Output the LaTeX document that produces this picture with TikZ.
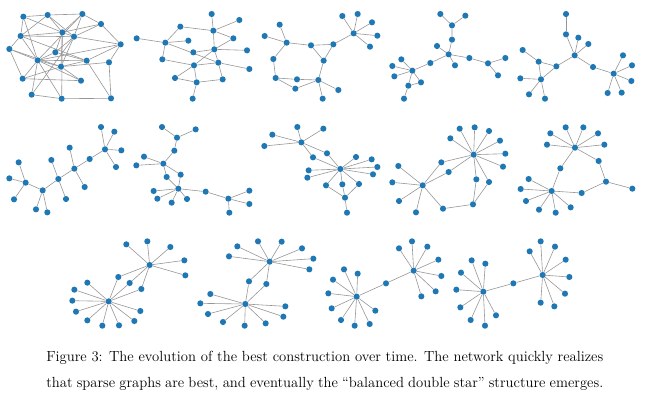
\documentclass[tikz,border=0pt]{standalone}
\usetikzlibrary{backgrounds}
\definecolor{nodeblue}{RGB}{31,119,180}
\definecolor{edgegray}{RGB}{150,150,150}
\tikzset{
  vtx/.style={circle, fill=nodeblue, inner sep=0pt, minimum size=4.6pt},
  lnk/.style={draw=edgegray, line width=0.45pt},
  caption/.style={anchor=base west, inner sep=0pt, font=\fontsize{11}{13}\selectfont}
}
\begin{document}
\begin{tikzpicture}[x=0.75pt, y=-0.75pt]
\useasboundingbox (0,0) rectangle (646,401);

% panel 1: dense random start
\begin{scope}[shift={(0,0)}, scale=1/3]
\foreach \n/\x/\y in {a/70/50, b/143/45, c/247/42, d/303/72, e/187/97, f/222/110, g/62/108, h/28/147, i/166/157, j/362/133, k/113/181, l/260/182, m/327/187, n/183/200, o/68/236, p/243/242, q/95/284, r/185/296, s/333/295}
  \node[vtx] (p1\n) at (\x,\y) {};
\begin{pgfonlayer}{background}
\foreach \u/\v in {a/b, a/g, a/k, a/e, b/c, b/g, b/e, b/f, c/d, c/e, c/f, c/k, d/f, d/j, d/e, e/f, e/g, e/i, e/n, e/r, f/g, f/i, f/j, f/n, f/q, g/h, g/k, g/l, h/k, h/o, i/k, i/l, j/l, j/m, j/k, k/l, k/n, k/o, k/p, k/r, l/n, l/s, m/n, m/s, n/o, n/p, o/p, q/r, q/k, r/s, h/n}
  \draw[lnk] (p1\u) -- (p1\v);
\end{pgfonlayer}
\end{scope}

% panel 2
\begin{scope}[shift={(125,0)}, scale=1/3]
\foreach \n/\x/\y in {a/260/42, b/343/60, c/166/80, d/265/92, e/35/115, f/325/115, g/121/128, h/190/122, i/205/157, j/268/148, k/366/151, l/112/178, m/280/188, n/207/196, o/373/207, p/150/234, q/215/247, r/293/238, s/203/296}
  \node[vtx] (p2\n) at (\x,\y) {};
\begin{pgfonlayer}{background}
\foreach \u/\v in {a/d, b/d, c/d, c/g, d/f, d/j, f/j, e/g, g/h, g/m, g/l, i/j, j/k, j/m, j/n, n/p, l/n, m/n, m/o, m/r, n/q, p/q, q/r, q/s}
  \draw[lnk] (p2\u) -- (p2\v);
\end{pgfonlayer}
\end{scope}

% panel 3
\begin{scope}[shift={(255,0)}, scale=1/3]
\foreach \n/\x/\y in {a/262/48, b/308/42, c/351/67, d/296/100, e/367/107, f/345/140, g/74/74, h/29/108, i/95/128, j/168/136, k/235/133, l/206/182, m/55/177, n/62/234, o/126/238, p/190/240, q/121/266, r/250/270, s/203/296}
  \node[vtx] (p3\n) at (\x,\y) {};
\begin{pgfonlayer}{background}
\foreach \u/\v in {a/d, b/d, c/d, e/d, f/d, k/d, g/i, h/i, i/j, j/k, j/l, k/l, i/m, m/n, n/o, o/p, n/q, q/p, l/p, p/r, p/s}
  \draw[lnk] (p3\u) -- (p3\v);
\end{pgfonlayer}
\end{scope}

% panel 4
\begin{scope}[shift={(385,0)}, scale=1/3]
\foreach \n/\x/\y in {a/166/42, b/241/47, c/201/76, d/201/119, e/156/138, f/191/163, g/210/196, h/253/174, i/309/190, j/361/174, k/339/226, l/136/189, m/49/178, n/22/198, o/82/212, p/28/229, q/108/247, r/70/257, s/57/296}
  \node[vtx] (p4\n) at (\x,\y) {};
\begin{pgfonlayer}{background}
\foreach \u/\v in {a/c, b/c, c/d, d/f, e/f, f/g, f/h, h/i, i/j, i/k, f/l, l/o, m/o, n/o, p/o, o/q, o/r, q/r, r/s}
  \draw[lnk] (p4\u) -- (p4\v);
\end{pgfonlayer}
\end{scope}

% panel 5
\begin{scope}[shift={(510,0)}, scale=1/3]
\foreach \n/\x/\y in {a/168/42, b/168/103, c/205/113, d/235/132, e/194/166, f/38/150, g/86/185, h/139/199, i/249/201, j/31/235, k/93/238, l/57/283, m/105/296, n/311/221, o/339/166, p/366/196, q/364/243, r/293/279, s/335/278}
  \node[vtx] (p5\n) at (\x,\y) {};
\begin{pgfonlayer}{background}
\foreach \u/\v in {a/b, b/e, c/e, d/e, e/h, e/i, i/n, g/h, f/g, g/k, h/k, j/k, k/l, k/m, n/o, n/p, n/q, n/r, n/s}
  \draw[lnk] (p5\u) -- (p5\v);
\end{pgfonlayer}
\end{scope}

% panel 6
\begin{scope}[shift={(0,115)}, scale=1/3]
\foreach \n/\x/\y in {a/303/36, b/343/50, c/315/103, d/364/106, e/348/156, f/269/132, g/209/98, h/223/161, i/254/216, j/154/135, k/175/192, l/198/252, m/56/142, n/28/190, o/77/203, p/42/253, q/128/226, r/108/283, s/142/292}
  \node[vtx] (p6\n) at (\x,\y) {};
\begin{pgfonlayer}{background}
\foreach \u/\v in {a/c, b/c, c/d, c/e, c/f, f/h, g/h, h/i, h/k, j/k, k/l, k/q, q/o, m/o, n/o, p/o, q/r, q/s}
  \draw[lnk] (p6\u) -- (p6\v);
\end{pgfonlayer}
\end{scope}

% panel 7
\begin{scope}[shift={(130,115)}, scale=1/3]
\foreach \n/\x/\y in {a/96/36, b/197/43, c/141/68, d/133/107, e/42/125, f/19/151, g/100/146, h/110/186, i/152/179, j/145/221, k/71/228, l/82/251, m/125/263, n/171/252, o/227/230, p/295/251, q/358/227, r/358/267, s/298/293}
  \node[vtx] (p7\n) at (\x,\y) {};
\begin{pgfonlayer}{background}
\foreach \u/\v in {a/c, b/c, c/d, d/g, e/g, f/g, g/h, g/i, h/j, i/j, j/k, j/l, j/m, j/n, j/o, o/p, p/q, p/r, p/s}
  \draw[lnk] (p7\u) -- (p7\v);
\end{pgfonlayer}
\end{scope}

% panel 8
\begin{scope}[shift={(255,115)}, scale=1/3]
\foreach \n/\x/\y in {a/127/36, b/205/41, c/52/59, d/28/93, e/139/82, f/216/115, g/174/127, h/256/162, i/303/126, j/350/133, k/367/156, l/354/178, m/161/166, n/157/188, o/213/211, p/262/208, q/312/207, r/270/248, s/276/293}
  \node[vtx] (p8\n) at (\x,\y) {};
\begin{pgfonlayer}{background}
\foreach \u/\v in {a/e, b/e, c/e, d/e, e/f, e/g, f/h, g/h, h/i, h/j, h/k, h/l, h/m, h/n, h/o, h/p, h/q, o/r, p/r, q/r, r/s}
  \draw[lnk] (p8\u) -- (p8\v);
\end{pgfonlayer}
\end{scope}

% panel 9
\begin{scope}[shift={(385,115)}, scale=1/3]
\foreach \n/\x/\y in {a/224/41, b/269/37, c/312/48, d/196/70, e/345/77, f/361/116, g/354/155, h/266/119, i/169/142, j/191/171, k/40/153, l/22/202, m/113/211, n/42/258, o/93/292, p/174/281, q/264/268, r/274/193, s/312/201}
  \node[vtx] (p9\n) at (\x,\y) {};
\begin{pgfonlayer}{background}
\foreach \u/\v in {h/a, h/b, h/c, h/d, h/e, h/f, h/g, h/i, h/j, i/m, j/m, m/k, m/l, m/n, m/o, m/p, p/q, q/r, r/h, q/s, s/h}
  \draw[lnk] (p9\u) -- (p9\v);
\end{pgfonlayer}
\end{scope}

% panel 10
\begin{scope}[shift={(510,115)}, scale=1/3]
\foreach \n/\x/\y in {a/167/37, b/220/37, c/121/55, d/264/55, e/111/89, f/283/89, g/195/98, h/266/138, i/151/160, j/288/200, k/367/221, l/215/234, m/56/192, n/32/222, o/125/228, p/48/258, q/87/284, r/137/293, s/182/277}
  \node[vtx] (q0\n) at (\x,\y) {};
\begin{pgfonlayer}{background}
\foreach \u/\v in {g/a, g/b, g/c, g/d, g/e, g/f, g/h, g/i, h/j, j/k, j/l, l/o, i/o, o/m, o/n, o/p, o/q, o/r, o/s}
  \draw[lnk] (q0\u) -- (q0\v);
\end{pgfonlayer}
\end{scope}

% panel 11 and 12
\begin{scope}[shift={(60,230)}, scale=1/3]
\foreach \n/\x/\y in {h/269/105, a/199/43, b/262/34, c/331/51, d/373/91, e/376/136, f/175/141, g/209/159, i/244/177, k/146/214, l/82/158, m/43/179, n/37/212, o/48/245, p/82/271, q/127/287, r/177/286, s/223/273, t/241/243}
  \node[vtx] (q1\n) at (\x,\y) {};
\foreach \n/\x/\y in {h/629/95, a/532/49, b/594/34, c/665/35, d/726/55, e/760/86, f/748/118, g/507/79, i/567/154, j/619/162, k/556/222, l/451/192, m/421/220, n/444/252, o/489/276, p/554/287, q/617/280, r/670/260, s/676/229}
  \node[vtx] (q2\n) at (\x,\y) {};
\begin{pgfonlayer}{background}
\foreach \u/\v in {h/a, h/b, h/c, h/d, h/e, h/f, h/g, h/i, k/f, k/g, k/i, k/l, k/m, k/n, k/o, k/p, k/q, k/r, k/s, k/t}
  \draw[lnk] (q1\u) -- (q1\v);
\foreach \u/\v in {h/a, h/b, h/c, h/d, h/e, h/f, h/g, h/i, h/j, k/i, k/j, k/l, k/m, k/n, k/o, k/p, k/q, k/r, k/s}
  \draw[lnk] (q2\u) -- (q2\v);
\end{pgfonlayer}
\end{scope}

% panel 13 and 14
\begin{scope}[shift={(320,230)}, scale=1/3]
\foreach \n/\x/\y in {k/110/200, a/72/118, b/113/131, c/39/149, d/25/190, e/35/235, f/63/270, g/104/287, i/149/282, j/166/242, m/198/160, h/281/122, l/237/55, n/276/34, o/322/50, p/355/89, q/364/138, r/347/184, s/304/199}
  \node[vtx] (q3\n) at (\x,\y) {};
\foreach \n/\x/\y in {k/490/185, a/455/91, b/496/101, c/423/128, d/409/179, e/421/232, f/452/270, g/495/287, i/528/256, m/580/160, h/668/135, l/629/64, n/662/34, o/705/50, p/737/89, q/748/141, r/735/191, s/703/229, t/662/218}
  \node[vtx] (q4\n) at (\x,\y) {};
\begin{pgfonlayer}{background}
\foreach \u/\v in {k/a, k/b, k/c, k/d, k/e, k/f, k/g, k/i, k/j, k/m, m/h, h/l, h/n, h/o, h/p, h/q, h/r, h/s}
  \draw[lnk] (q3\u) -- (q3\v);
\foreach \u/\v in {k/a, k/b, k/c, k/d, k/e, k/f, k/g, k/i, k/m, m/h, h/l, h/n, h/o, h/p, h/q, h/r, h/s, h/t}
  \draw[lnk] (q4\u) -- (q4\v);
\end{pgfonlayer}
\end{scope}

% caption
\node[caption] (cap1) at (46,361) {\makebox[417.75pt][s]{Figure 3: The evolution of the best construction over time. The network quickly realizes}};
\node[caption] (cap2) at (46,387) {\makebox[417.75pt][s]{that sparse graphs are best, and eventually the ``balanced double star'' structure emerges.}};
\end{tikzpicture}
\end{document}
